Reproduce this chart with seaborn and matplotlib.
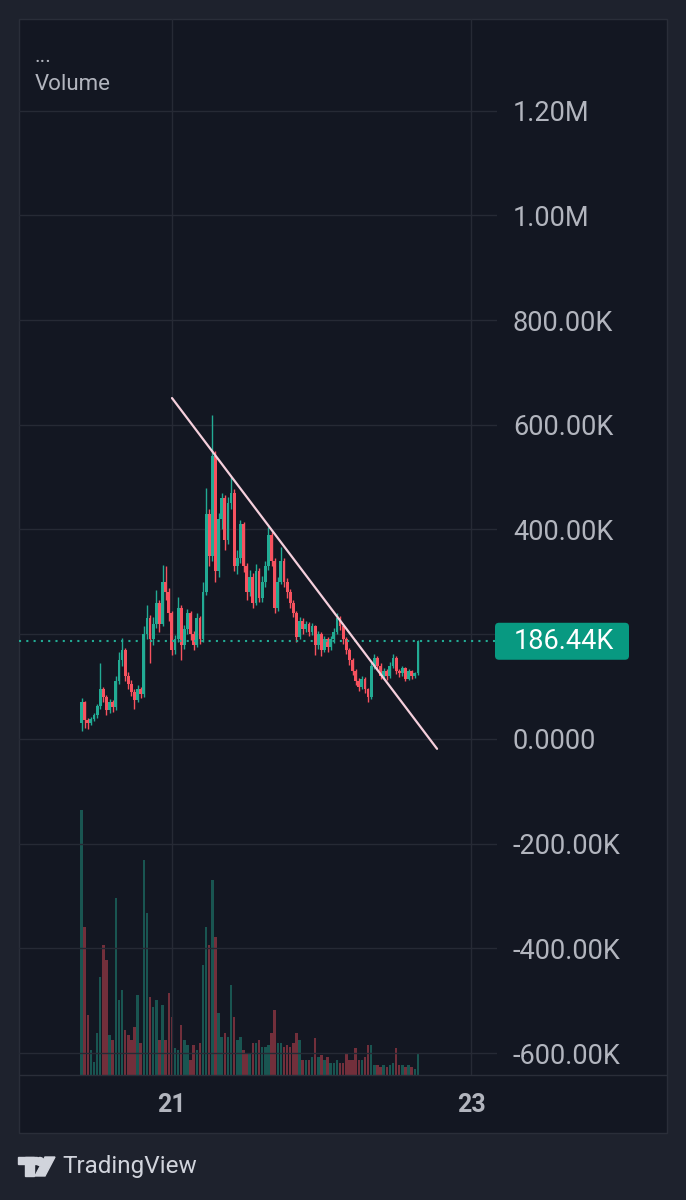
import numpy as np
import matplotlib
matplotlib.use("Agg")
import matplotlib.pyplot as plt
import matplotlib.transforms as mtransforms
from matplotlib.patches import Rectangle, Circle, Polygon, FancyBboxPatch
from matplotlib.lines import Line2D
import seaborn as sns

# =========================
# DATA (values in K, 30 minute candles)
# =========================
START_DAY = 20.395
STEP = 1 / 48

first_open = 30
closes = [
    70, 36, 30, 38, 45, 62, 95, 80, 55, 70,
    60, 110, 150, 170, 120, 105, 90, 75, 95, 85,
    200, 230, 190, 220, 260, 220, 300, 280, 240, 170,
    190, 250, 180, 210, 240, 200, 180, 230, 190, 280,
    430, 350, 540, 320, 420, 460, 380, 450, 470, 330,
    345, 410, 330, 280, 310, 260, 320, 270, 300, 330,
    390, 340, 250, 300, 340, 300, 280, 260, 240, 195,
    225, 210, 220, 205, 215, 180, 200, 170, 190, 175,
    190, 205, 230, 215, 190, 170, 150, 130, 110, 100,
    115, 95, 80, 140, 155, 140, 120, 130, 120, 140,
    155, 130, 125, 135, 115, 130, 120, 125, 186.44,
]
highs = [
    78, 72, 40, 42, 50, 66, 145, 100, 84, 76,
    74, 120, 165, 193, 174, 128, 112, 96, 102, 100,
    215, 255, 236, 232, 285, 266, 332, 330, 288, 245,
    198, 271, 256, 218, 248, 245, 206, 240, 234, 300,
    480, 440, 619, 550, 432, 470, 466, 462, 500, 478,
    360, 418, 415, 336, 322, 316, 334, 326, 312, 340,
    405, 396, 346, 310, 367, 346, 308, 286, 266, 244,
    232, 230, 226, 224, 222, 218, 206, 204, 196, 194,
    196, 212, 240, 234, 218, 194, 174, 154, 134, 116,
    120, 118, 98, 146, 163, 158, 144, 136, 134, 146,
    163, 158, 134, 140, 138, 134, 132, 128, 189,
]
lows = [
    15, 20, 18, 26, 34, 40, 58, 70, 45, 50,
    52, 56, 105, 140, 110, 95, 82, 58, 70, 78,
    80, 190, 145, 180, 212, 205, 215, 265, 225, 160,
    162, 185, 151, 172, 200, 188, 170, 176, 182, 186,
    275, 330, 340, 300, 310, 400, 360, 372, 440, 320,
    315, 335, 318, 265, 272, 250, 255, 262, 262, 290,
    322, 330, 240, 244, 295, 290, 270, 250, 232, 185,
    190, 200, 204, 196, 198, 160, 172, 158, 165, 166,
    170, 184, 200, 208, 182, 162, 142, 122, 102, 92,
    96, 88, 70, 76, 134, 132, 114, 116, 112, 116,
    136, 124, 118, 120, 110, 112, 115, 117, 122,
]
volume = [
    265, 148, 60, 25, 13, 42, 98, 130, 115, 40,
    35, 177, 75, 85, 45, 40, 35, 48, 80, 32,
    215, 162, 78, 68, 75, 35, 70, 35, 82, 58,
    27, 25, 50, 35, 30, 15, 30, 25, 32, 110,
    148, 130, 195, 138, 62, 38, 42, 38, 90, 58,
    35, 38, 25, 22, 22, 32, 32, 35, 28, 28,
    30, 42, 65, 32, 32, 28, 30, 28, 32, 42,
    35, 15, 15, 15, 18, 37, 18, 20, 15, 18,
    12, 12, 15, 12, 12, 22, 15, 15, 27, 15,
    15, 18, 30, 30, 10, 10, 8, 10, 8, 10,
    12, 27, 10, 10, 8, 10, 8, 6, 22,
]

trend_x = [21.0, 22.773]
trend_y = [651, -19]

y_ticks = [-600, -400, -200, 0, 200, 400, 600, 800, 1000, 1200]
y_tick_labels = ["-600.00K", "-400.00K", "-200.00K", "0.0000", "",
                 "400.00K", "600.00K", "800.00K", "1.00M", "1.20M"]
x_ticks = [21, 23]
x_tick_labels = ["21", "23"]

# =========================
# STYLE
# =========================
OUTER = "#1e222d"
PANEL = "#131722"
GRID = "#262a35"
BORDER = "#2a2e39"
TEXT = "#b2b5be"
UP = "#22ab94"
DOWN = "#f7525f"
LABEL_BG = "#089981"
TREND = "#f5cfdc"

W, H = 686, 1200

sns.set_theme(style="dark", rc={
    "figure.facecolor": OUTER,
    "axes.facecolor": PANEL,
    "axes.edgecolor": BORDER,
    "grid.color": GRID,
    "text.color": TEXT,
})
plt.rcParams["font.family"] = ["Roboto", "DejaVu Sans"]

fig = plt.figure(figsize=(W / 100, H / 100), dpi=100, facecolor=OUTER)
px = mtransforms.Affine2D().scale(1 / W, -1 / H).translate(0, 1) + fig.transFigure

# panel background and separators
fig.patches.append(Rectangle((19, 19), 648, 1114, transform=px, facecolor=PANEL,
                             edgecolor=BORDER, lw=1, zorder=-10))
fig.lines.append(Line2D([19, 667], [1075, 1075], transform=px, color=BORDER, lw=1))

ax = fig.add_axes([19 / W, 1 - 1075 / H, 478 / W, 1056 / H])
ax_vol = ax.twinx()
ax.set_zorder(ax_vol.get_zorder() + 1)
ax.patch.set_visible(False)

o = np.array([first_open] + closes[:-1], dtype=float)
c = np.array(closes, dtype=float)
x = START_DAY + np.arange(len(c)) * STEP
cols = np.where(c >= o, UP, DOWN)

# volume overlay
ax_vol.bar(x, volume, width=STEP * 0.8, color=cols, alpha=0.42, linewidth=0)
ax_vol.set_ylim(0, max(volume) * 3.985)
ax_vol.set_yticks([])
ax_vol.grid(False)
for s in ax_vol.spines.values():
    s.set_visible(False)

# candles
ax.vlines(x, lows, highs, colors=cols, lw=1.0, zorder=3)
ax.bar(x, np.abs(c - o), bottom=np.minimum(o, c), width=STEP * 0.9,
       color=cols, linewidth=0, zorder=3)

# trend line
sns.lineplot(x=trend_x, y=trend_y, ax=ax, color=TREND, lw=1.6, zorder=5)

ylim = (-642, 1375)
ax.set_xlim(19.9766, 23.1739)
ax.set_ylim(*ylim)

# last price line + label
last = closes[-1]
ax.axhline(last, color=UP, ls=(0, (1, 2.5)), lw=1.5, zorder=4)
blend = mtransforms.blended_transform_factory(ax.transAxes, ax.transData)
x_pp = 1 / 478
y_pp = (ylim[1] - ylim[0]) / 1056
box_h = 37 * y_pp
ax.add_patch(FancyBboxPatch((1 - 2 * x_pp, last - box_h / 2), 134 * x_pp, box_h,
                            boxstyle=f"round,pad=0,rounding_size={4 * x_pp}",
                            mutation_aspect=y_pp / x_pp, transform=blend,
                            facecolor=LABEL_BG, edgecolor="none", clip_on=False, zorder=6))
ax.text(1 + 17 * x_pp, last, f"{last:.2f}K", transform=blend, ha="left", va="center",
        color="white", fontsize=19.5, clip_on=False, zorder=7)

# axes / ticks
ax.yaxis.tick_right()
ax.set_yticks(y_ticks, y_tick_labels)
ax.set_xticks(x_ticks, x_tick_labels)
ax.tick_params(axis="y", length=0, pad=11.5, labelsize=19.5, labelcolor=TEXT)
ax.tick_params(axis="x", length=0, pad=13, labelsize=18, labelcolor=TEXT)
for lab in ax.get_xticklabels():
    lab.set_fontweight("bold")
ax.grid(True, color=GRID, lw=1)
for s in ax.spines.values():
    s.set_visible(False)
ax.set_xlabel("")
ax.set_ylabel("")

# header texts
fig.text(35 / W, 1 - 62 / H, "...", color=TEXT, fontsize=15, va="baseline")
fig.text(35 / W, 1 - 84 / H, "Volume", color=TEXT, fontsize=16, va="center")

# TradingView logo
LOGO = "#d1d4dc"
fig.patches.append(Rectangle((18, 1157), 19, 7, transform=px, color=LOGO))
fig.patches.append(Rectangle((25, 1157), 9, 19, transform=px, color=LOGO))
fig.patches.append(Circle((40, 1161.5), 4, transform=px, color=LOGO))
fig.patches.append(Polygon([(45, 1157), (55, 1157), (45, 1176), (35, 1176)],
                           closed=True, transform=px, color=LOGO))
fig.text(62 / W, 1 - 1166 / H, "TradingView", color=LOGO, fontsize=17.5, va="center")

fig.savefig("out.png", dpi=100, facecolor=OUTER)
